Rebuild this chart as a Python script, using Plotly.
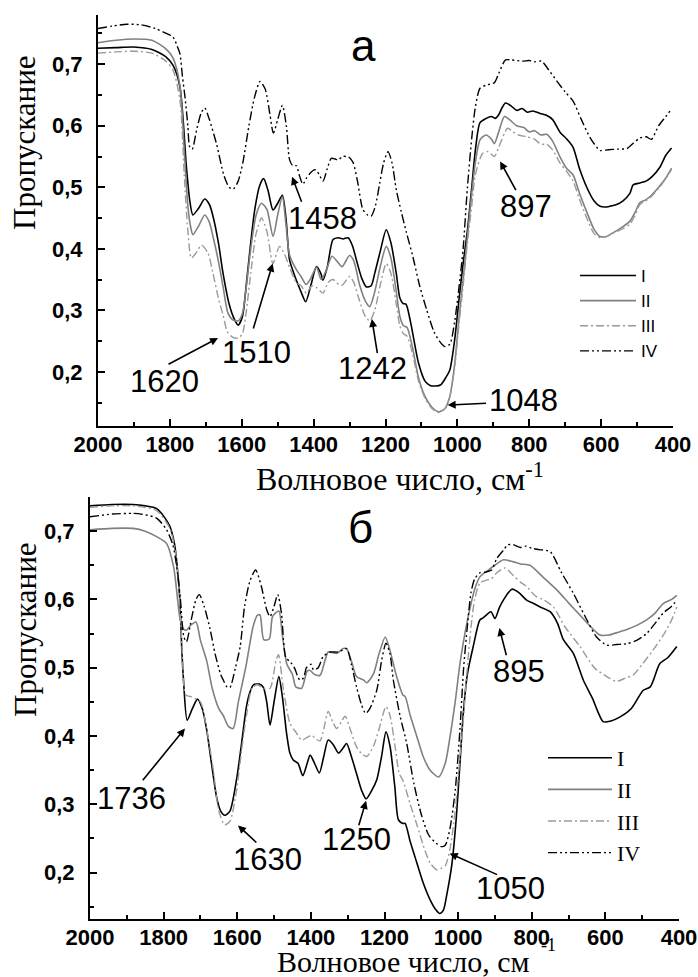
import plotly.graph_objects as go

# ---------------- data: panel "а" ----------------
a_I_x = [2000, 1950, 1900, 1850, 1811, 1791, 1772, 1754, 1745, 1736, 1720, 1703, 1690, 1680, 1665, 1652, 1635, 1620, 1610, 1598, 1587, 1575, 1564, 1550, 1539, 1527, 1513, 1500, 1487, 1477, 1467, 1455, 1448, 1435, 1422, 1408, 1392, 1380, 1374, 1362, 1346, 1332, 1318, 1304, 1292, 1281, 1266, 1253, 1240, 1230, 1215, 1198, 1185, 1170, 1160, 1151, 1143, 1130, 1108, 1090, 1076, 1060, 1046, 1033, 1021, 1008, 995, 984, 972, 960, 950, 937, 920, 905, 895, 885, 875, 866, 850, 835, 820, 805, 790, 770, 752, 735, 715, 695, 678, 660, 640, 620, 603, 585, 570, 557, 539, 520, 511, 492, 475, 459, 436, 420, 404]
a_I_y = [0.726, 0.727, 0.728, 0.724, 0.712, 0.698, 0.663, 0.533, 0.480, 0.455, 0.466, 0.481, 0.472, 0.453, 0.410, 0.360, 0.310, 0.285, 0.276, 0.290, 0.344, 0.410, 0.463, 0.503, 0.514, 0.495, 0.463, 0.474, 0.487, 0.450, 0.382, 0.360, 0.349, 0.330, 0.314, 0.340, 0.371, 0.360, 0.349, 0.370, 0.415, 0.418, 0.416, 0.418, 0.405, 0.382, 0.352, 0.338, 0.340, 0.360, 0.395, 0.431, 0.410, 0.360, 0.320, 0.311, 0.310, 0.280, 0.214, 0.185, 0.178, 0.177, 0.179, 0.190, 0.203, 0.250, 0.320, 0.376, 0.430, 0.500, 0.560, 0.605, 0.612, 0.615, 0.612, 0.618, 0.630, 0.637, 0.632, 0.625, 0.628, 0.622, 0.624, 0.620, 0.617, 0.610, 0.590, 0.578, 0.565, 0.530, 0.500, 0.478, 0.469, 0.468, 0.470, 0.472, 0.478, 0.490, 0.504, 0.507, 0.510, 0.517, 0.533, 0.552, 0.564]

a_II_x = [2000, 1950, 1900, 1850, 1811, 1791, 1772, 1760, 1750, 1742, 1736, 1720, 1703, 1690, 1680, 1665, 1652, 1638, 1624, 1610, 1598, 1587, 1575, 1560, 1545, 1530, 1513, 1500, 1487, 1477, 1467, 1448, 1435, 1421, 1408, 1392, 1379, 1365, 1349, 1335, 1321, 1300, 1288, 1272, 1256, 1244, 1230, 1215, 1198, 1185, 1170, 1160, 1150, 1140, 1125, 1108, 1090, 1070, 1052, 1035, 1021, 1008, 995, 984, 972, 960, 950, 937, 920, 905, 897, 885, 869, 855, 835, 815, 800, 785, 768, 752, 735, 715, 695, 678, 660, 640, 620, 603, 585, 570, 555, 539, 520, 505, 492, 475, 460, 440, 420, 404]
a_II_y = [0.735, 0.739, 0.741, 0.739, 0.725, 0.710, 0.665, 0.560, 0.470, 0.435, 0.423, 0.437, 0.455, 0.443, 0.420, 0.380, 0.338, 0.295, 0.284, 0.283, 0.295, 0.340, 0.400, 0.455, 0.474, 0.464, 0.420, 0.455, 0.485, 0.440, 0.390, 0.366, 0.355, 0.342, 0.352, 0.370, 0.350, 0.365, 0.388, 0.380, 0.371, 0.389, 0.380, 0.341, 0.315, 0.306, 0.330, 0.370, 0.404, 0.385, 0.330, 0.290, 0.275, 0.272, 0.240, 0.190, 0.160, 0.142, 0.135, 0.140, 0.160, 0.210, 0.290, 0.350, 0.420, 0.490, 0.540, 0.577, 0.585, 0.578, 0.571, 0.590, 0.615, 0.610, 0.600, 0.597, 0.590, 0.592, 0.585, 0.586, 0.575, 0.550, 0.530, 0.520, 0.490, 0.460, 0.432, 0.420, 0.420, 0.425, 0.430, 0.436, 0.445, 0.460, 0.475, 0.480, 0.487, 0.500, 0.515, 0.531]

a_III_x = [2000, 1950, 1900, 1850, 1811, 1791, 1772, 1760, 1750, 1740, 1725, 1712, 1694, 1680, 1665, 1652, 1640, 1625, 1610, 1598, 1587, 1575, 1560, 1545, 1530, 1513, 1495, 1480, 1467, 1448, 1435, 1420, 1405, 1392, 1374, 1360, 1346, 1330, 1320, 1300, 1288, 1272, 1256, 1244, 1230, 1215, 1198, 1185, 1170, 1160, 1150, 1140, 1125, 1108, 1090, 1070, 1052, 1035, 1021, 1008, 995, 984, 972, 960, 950, 930, 915, 897, 885, 860, 845, 830, 807, 785, 768, 752, 734, 715, 695, 678, 660, 640, 620, 603, 585, 570, 555, 539, 520, 505, 492, 475, 460, 440, 420, 404]
a_III_y = [0.718, 0.720, 0.721, 0.718, 0.705, 0.690, 0.642, 0.520, 0.430, 0.385, 0.395, 0.406, 0.393, 0.360, 0.320, 0.292, 0.265, 0.256, 0.255, 0.262, 0.300, 0.360, 0.425, 0.450, 0.428, 0.376, 0.404, 0.390, 0.370, 0.345, 0.340, 0.328, 0.340, 0.337, 0.328, 0.345, 0.350, 0.342, 0.341, 0.355, 0.345, 0.315, 0.290, 0.283, 0.300, 0.340, 0.376, 0.360, 0.310, 0.275, 0.262, 0.258, 0.230, 0.185, 0.157, 0.140, 0.134, 0.140, 0.160, 0.205, 0.280, 0.340, 0.410, 0.470, 0.520, 0.555, 0.558, 0.550, 0.565, 0.596, 0.590, 0.585, 0.582, 0.578, 0.570, 0.570, 0.560, 0.540, 0.525, 0.510, 0.480, 0.450, 0.425, 0.418, 0.420, 0.425, 0.428, 0.433, 0.440, 0.455, 0.472, 0.478, 0.485, 0.498, 0.514, 0.529]

a_IV_x = [2000, 1960, 1920, 1880, 1840, 1810, 1791, 1780, 1772, 1765, 1758, 1750, 1745, 1738, 1725, 1712, 1703, 1690, 1670, 1650, 1635, 1624, 1610, 1597, 1580, 1565, 1549, 1535, 1522, 1512, 1500, 1487, 1476, 1467, 1458, 1448, 1440, 1430, 1420, 1411, 1400, 1393, 1384, 1374, 1362, 1351, 1340, 1332, 1320, 1309, 1300, 1290, 1278, 1263, 1250, 1240, 1228, 1216, 1205, 1193, 1182, 1170, 1156, 1142, 1125, 1105, 1085, 1065, 1050, 1035, 1021, 1008, 995, 984, 972, 960, 950, 937, 920, 897, 885, 866, 850, 820, 800, 785, 766, 745, 720, 700, 678, 655, 630, 603, 580, 555, 528, 510, 492, 475, 460, 440, 420, 407]
a_IV_y = [0.758, 0.762, 0.765, 0.764, 0.758, 0.750, 0.744, 0.730, 0.717, 0.680, 0.647, 0.600, 0.566, 0.562, 0.595, 0.622, 0.629, 0.610, 0.570, 0.520, 0.500, 0.497, 0.510, 0.540, 0.600, 0.645, 0.672, 0.660, 0.620, 0.588, 0.610, 0.633, 0.600, 0.545, 0.535, 0.535, 0.520, 0.505, 0.515, 0.522, 0.528, 0.528, 0.520, 0.510, 0.530, 0.547, 0.546, 0.544, 0.550, 0.550, 0.548, 0.540, 0.510, 0.464, 0.455, 0.453, 0.470, 0.507, 0.540, 0.558, 0.540, 0.496, 0.460, 0.427, 0.390, 0.340, 0.300, 0.265, 0.250, 0.241, 0.245, 0.280, 0.340, 0.400, 0.500, 0.580, 0.630, 0.661, 0.666, 0.670, 0.685, 0.707, 0.707, 0.705, 0.706, 0.704, 0.705, 0.690, 0.670, 0.655, 0.640, 0.610, 0.580, 0.560, 0.561, 0.562, 0.563, 0.572, 0.580, 0.582, 0.578, 0.600, 0.615, 0.625]

# ---------------- data: panel "б" ----------------
b_I_x = [2000, 1940, 1883, 1850, 1819, 1800, 1783, 1770, 1764, 1756, 1751, 1746, 1736, 1722, 1708, 1695, 1683, 1670, 1656, 1645, 1634, 1620, 1602, 1588, 1575, 1565, 1556, 1540, 1529, 1520, 1511, 1500, 1487, 1478, 1466, 1457, 1448, 1435, 1422, 1410, 1402, 1390, 1377, 1365, 1353, 1340, 1325, 1313, 1303, 1290, 1276, 1262, 1250, 1235, 1221, 1208, 1196, 1185, 1172, 1162, 1150, 1144, 1130, 1112, 1095, 1076, 1060, 1050, 1040, 1030, 1017, 1005, 995, 986, 975, 959, 941, 932, 911, 900, 888, 877, 854, 835, 814, 795, 777, 750, 730, 714, 687, 660, 635, 620, 606, 585, 560, 530, 497, 478, 452, 430, 406]
b_I_y = [0.737, 0.739, 0.739, 0.737, 0.733, 0.722, 0.707, 0.680, 0.653, 0.600, 0.531, 0.482, 0.423, 0.440, 0.454, 0.440, 0.409, 0.360, 0.310, 0.290, 0.284, 0.290, 0.336, 0.390, 0.443, 0.465, 0.475, 0.476, 0.471, 0.450, 0.416, 0.450, 0.487, 0.460, 0.404, 0.375, 0.365, 0.360, 0.342, 0.360, 0.372, 0.360, 0.346, 0.370, 0.394, 0.388, 0.375, 0.382, 0.389, 0.370, 0.345, 0.320, 0.308, 0.320, 0.336, 0.370, 0.406, 0.385, 0.326, 0.277, 0.272, 0.272, 0.245, 0.214, 0.185, 0.160, 0.145, 0.140, 0.145, 0.170, 0.212, 0.280, 0.360, 0.433, 0.490, 0.531, 0.570, 0.573, 0.582, 0.572, 0.588, 0.599, 0.615, 0.610, 0.599, 0.594, 0.589, 0.582, 0.565, 0.541, 0.521, 0.482, 0.455, 0.435, 0.421, 0.422, 0.428, 0.440, 0.467, 0.472, 0.506, 0.515, 0.531]

b_II_x = [2000, 1940, 1883, 1850, 1819, 1792, 1773, 1762, 1755, 1745, 1738, 1725, 1712, 1700, 1683, 1668, 1650, 1638, 1624, 1611, 1597, 1585, 1575, 1557, 1545, 1538, 1528, 1513, 1504, 1487, 1478, 1465, 1450, 1441, 1425, 1410, 1402, 1390, 1375, 1362, 1353, 1340, 1330, 1312, 1303, 1290, 1276, 1257, 1248, 1230, 1215, 1198, 1185, 1167, 1150, 1144, 1130, 1112, 1095, 1076, 1053, 1035, 1022, 1008, 995, 980, 967, 955, 941, 918, 900, 877, 850, 830, 805, 770, 732, 700, 669, 640, 615, 590, 565, 542, 515, 488, 465, 443, 420, 406]
b_II_y = [0.702, 0.704, 0.704, 0.700, 0.692, 0.682, 0.648, 0.600, 0.570, 0.556, 0.555, 0.563, 0.567, 0.540, 0.510, 0.470, 0.440, 0.430, 0.414, 0.411, 0.450, 0.480, 0.506, 0.560, 0.577, 0.577, 0.541, 0.542, 0.575, 0.583, 0.550, 0.505, 0.490, 0.472, 0.470, 0.495, 0.496, 0.490, 0.489, 0.510, 0.523, 0.522, 0.521, 0.528, 0.528, 0.510, 0.487, 0.482, 0.478, 0.491, 0.520, 0.545, 0.525, 0.487, 0.460, 0.458, 0.430, 0.399, 0.370, 0.350, 0.340, 0.360, 0.399, 0.450, 0.506, 0.555, 0.589, 0.615, 0.633, 0.643, 0.650, 0.658, 0.655, 0.652, 0.650, 0.633, 0.614, 0.595, 0.577, 0.560, 0.548, 0.548, 0.552, 0.556, 0.562, 0.570, 0.580, 0.594, 0.600, 0.606]

b_III_x = [2000, 1940, 1883, 1819, 1783, 1770, 1760, 1750, 1740, 1728, 1715, 1700, 1683, 1665, 1650, 1634, 1620, 1602, 1588, 1575, 1560, 1545, 1530, 1511, 1495, 1488, 1475, 1457, 1440, 1425, 1410, 1398, 1385, 1375, 1365, 1353, 1340, 1330, 1318, 1307, 1290, 1276, 1262, 1248, 1230, 1215, 1196, 1185, 1170, 1160, 1150, 1130, 1112, 1090, 1076, 1058, 1047, 1035, 1022, 1008, 995, 985, 975, 965, 955, 941, 925, 910, 895, 873, 850, 830, 814, 790, 770, 741, 710, 669, 630, 596, 570, 545, 525, 500, 470, 440, 420, 406]
b_III_y = [0.735, 0.737, 0.737, 0.730, 0.704, 0.677, 0.630, 0.530, 0.460, 0.458, 0.455, 0.450, 0.410, 0.350, 0.290, 0.270, 0.275, 0.320, 0.380, 0.430, 0.470, 0.475, 0.470, 0.470, 0.510, 0.519, 0.470, 0.419, 0.405, 0.394, 0.398, 0.401, 0.395, 0.393, 0.410, 0.436, 0.420, 0.411, 0.420, 0.429, 0.405, 0.384, 0.374, 0.370, 0.385, 0.410, 0.443, 0.430, 0.380, 0.345, 0.335, 0.300, 0.270, 0.232, 0.214, 0.204, 0.206, 0.210, 0.235, 0.290, 0.370, 0.430, 0.500, 0.560, 0.600, 0.624, 0.628, 0.630, 0.639, 0.646, 0.635, 0.625, 0.619, 0.605, 0.600, 0.589, 0.560, 0.531, 0.500, 0.487, 0.480, 0.485, 0.489, 0.505, 0.526, 0.550, 0.570, 0.589]

b_IV_x = [2000, 1940, 1883, 1850, 1819, 1792, 1775, 1765, 1755, 1745, 1738, 1725, 1712, 1703, 1690, 1674, 1660, 1645, 1638, 1628, 1620, 1605, 1592, 1580, 1565, 1550, 1535, 1520, 1511, 1500, 1490, 1480, 1468, 1455, 1445, 1430, 1420, 1412, 1400, 1393, 1380, 1367, 1348, 1325, 1303, 1290, 1276, 1262, 1251, 1240, 1221, 1208, 1196, 1185, 1176, 1158, 1140, 1120, 1100, 1080, 1060, 1045, 1035, 1022, 1008, 995, 985, 975, 965, 955, 941, 925, 909, 895, 877, 865, 850, 830, 815, 800, 780, 750, 720, 687, 655, 624, 596, 570, 542, 515, 488, 465, 443, 420, 406]
b_IV_y = [0.721, 0.725, 0.726, 0.724, 0.719, 0.702, 0.680, 0.650, 0.604, 0.545, 0.538, 0.570, 0.600, 0.607, 0.590, 0.557, 0.520, 0.490, 0.482, 0.472, 0.471, 0.500, 0.531, 0.590, 0.628, 0.643, 0.620, 0.585, 0.575, 0.590, 0.607, 0.580, 0.515, 0.508, 0.500, 0.482, 0.485, 0.500, 0.505, 0.497, 0.500, 0.516, 0.523, 0.523, 0.528, 0.505, 0.472, 0.445, 0.433, 0.440, 0.467, 0.510, 0.536, 0.520, 0.482, 0.430, 0.390, 0.330, 0.285, 0.255, 0.243, 0.238, 0.240, 0.265, 0.320, 0.410, 0.500, 0.560, 0.610, 0.630, 0.639, 0.640, 0.643, 0.660, 0.672, 0.680, 0.680, 0.676, 0.678, 0.675, 0.673, 0.670, 0.640, 0.609, 0.575, 0.545, 0.533, 0.534, 0.535, 0.540, 0.550, 0.565, 0.580, 0.590, 0.599]

series_names = ["I", "II", "III", "IV"]
x_tickvals = [2000, 1800, 1600, 1400, 1200, 1000, 800, 600, 400]
x_ticktext = ["2000", "1800", "1600", "1400", "1200", "1000", "800", "600", "400"]
y_tickvals = [0.2, 0.3, 0.4, 0.5, 0.6, 0.7]
y_ticktext = ["0,2", "0,3", "0,4", "0,5", "0,6", "0,7"]

# peak labels: (text, text_x, text_y, tail_x, tail_y, head_x, head_y)
a_labels = [
    ("1458", 1374, 0.450, 1432, 0.474, 1460, 0.517),
    ("1510", 1558, 0.232, 1569, 0.268, 1514, 0.376),
    ("1620", 1816, 0.184, 1808, 0.211, 1666, 0.255),
    ("1242", 1235, 0.206, 1222, 0.228, 1238, 0.286),
    ("1048", 815, 0.153, 916, 0.149, 1027, 0.146),
    ("897", 809, 0.468, 835, 0.493, 881, 0.542),
]
b_labels = [
    ("895", 835, 0.495, 868, 0.516, 888, 0.558),
    ("1736", 1886, 0.309, 1860, 0.333, 1742, 0.411),
    ("1630", 1519, 0.219, 1544, 0.242, 1598, 0.269),
    ("1250", 1277, 0.249, 1271, 0.267, 1250, 0.305),
    ("1050", 859, 0.176, 890, 0.196, 1023, 0.228),
]

# ---------------- figure ----------------
W, H = 698, 977
SANS = "Liberation Sans, Arial, sans-serif"
SERIF = "Liberation Serif, Times New Roman, serif"

styles = [
    dict(color="black", width=1.6, dash="solid"),
    dict(color="#808080", width=1.6, dash="solid"),
    dict(color="#9a9a9a", width=1.4, dash="8px,3px,2px,3px"),
    dict(color="black", width=1.4, dash="9px,3px,2px,3px,2px,3px"),
]

fig = go.Figure()
a_data = [(a_I_x, a_I_y), (a_II_x, a_II_y), (a_III_x, a_III_y), (a_IV_x, a_IV_y)]
b_data = [(b_I_x, b_I_y), (b_II_x, b_II_y), (b_III_x, b_III_y), (b_IV_x, b_IV_y)]
for name, (xs, ys), st in zip(series_names, a_data, styles):
    fig.add_trace(go.Scatter(x=xs, y=ys, mode="lines", name=name, line=dict(shape="spline", smoothing=0.7, **st),
                             xaxis="x", yaxis="y", legend="legend"))
for name, (xs, ys), st in zip(series_names, b_data, styles):
    fig.add_trace(go.Scatter(x=xs, y=ys, mode="lines", name=name, line=dict(shape="spline", smoothing=0.7, **st),
                             xaxis="x2", yaxis="y2", legend="legend2"))

def xaxis(domain, anchor):
    return dict(domain=domain, anchor=anchor, range=[2000, 400], showline=True, linecolor="black", linewidth=2,
                ticks="inside", ticklen=7, tickwidth=2, tickcolor="black", tickvals=x_tickvals, ticktext=x_ticktext,
                tickfont=dict(family=SANS, size=22, color="black", weight="bold"), showgrid=False, zeroline=False,
                ticklabelstandoff=-2, automargin=False,
                minor=dict(ticks="inside", ticklen=4, tickwidth=1.5, tickcolor="black", dtick=100, tick0=0, showgrid=False))

def yaxis(domain, anchor, rng):
    return dict(domain=domain, anchor=anchor, range=rng, showline=True, linecolor="black", linewidth=2,
                ticks="inside", ticklen=7, tickwidth=2, tickcolor="black", tickvals=y_tickvals, ticktext=y_ticktext,
                tickfont=dict(family=SANS, size=22, color="black", weight="bold"), showgrid=False, zeroline=False,
                ticklabelstandoff=9, automargin=False,
                minor=dict(ticks="inside", ticklen=4, tickwidth=1.5, tickcolor="black", dtick=0.05, tick0=0, showgrid=False))

fig.update_layout(
    width=W, height=H, margin=dict(l=0, r=0, t=0, b=0, autoexpand=False),
    paper_bgcolor="white", plot_bgcolor="white",
    xaxis=xaxis([98 / W, 673 / W], "y"),
    yaxis=yaxis([1 - 426 / H, 1 - 15 / H], "x", [0.112, 0.78]),
    xaxis2=xaxis([90 / W, 679 / W], "y2"),
    yaxis2=yaxis([1 - 919 / H, 1 - 497 / H], "x2", [0.132, 0.75]),
    legend=dict(x=575 / W, y=1 - 258 / H, xanchor="left", yanchor="top", bgcolor="rgba(0,0,0,0)",
                font=dict(family=SANS, size=17, color="black"), itemwidth=56, tracegroupgap=0),
    legend2=dict(x=543 / W, y=1 - 737 / H, xanchor="left", yanchor="top", bgcolor="rgba(0,0,0,0)",
                 font=dict(family=SERIF, size=22, color="black"), itemwidth=64, tracegroupgap=0),
    showlegend=True,
)

ann = []
def txt(text, x, y, size, family, xref="paper", yref="paper", angle=0):
    return dict(text=text, x=x, y=y, xref=xref, yref=yref, textangle=angle, xanchor="center", yanchor="middle",
                showarrow=False, font=dict(family=family, size=size, color="black"))

# axis titles
ann.append(txt("Пропускание", 25 / W, 1 - 143 / H, 31, SERIF, angle=-90))
ann.append(txt("Волновое число, см<sup>-1</sup>", 400 / W, 1 - 477 / H, 32, SERIF))
ann.append(txt("Пропускание", 25 / W, 1 - 630 / H, 31, SERIF, angle=-90))
ann.append(txt("Волновое число, см", 404 / W, 1 - 961 / H, 30, SERIF))
ann.append(txt("-1", 548 / W, 1 - 945 / H, 18, SERIF))
# panel letters
ann.append(txt("а", 1260, 0.73, 44, SANS, "x", "y"))
ann.append(txt("б", 1264, 0.705, 44, SANS, "x2", "y2"))

for labels, xr, yr in [(a_labels, "x", "y"), (b_labels, "x2", "y2")]:
    for t, tx, ty, ax_, ay_, hx, hy in labels:
        ann.append(txt(t, tx, ty, 31, SANS, xr, yr))
        ann.append(dict(text="", x=hx, y=hy, xref=xr, yref=yr, ax=ax_, ay=ay_, axref=xr, ayref=yr,
                        showarrow=True, arrowhead=2, arrowsize=1, arrowwidth=1.6, arrowcolor="black", standoff=0))

fig.update_layout(annotations=ann)
fig.write_html("out.html", config={"displayModeBar": False},
               post_script="document.body.style.margin='0px';document.body.style.overflow='hidden';")
